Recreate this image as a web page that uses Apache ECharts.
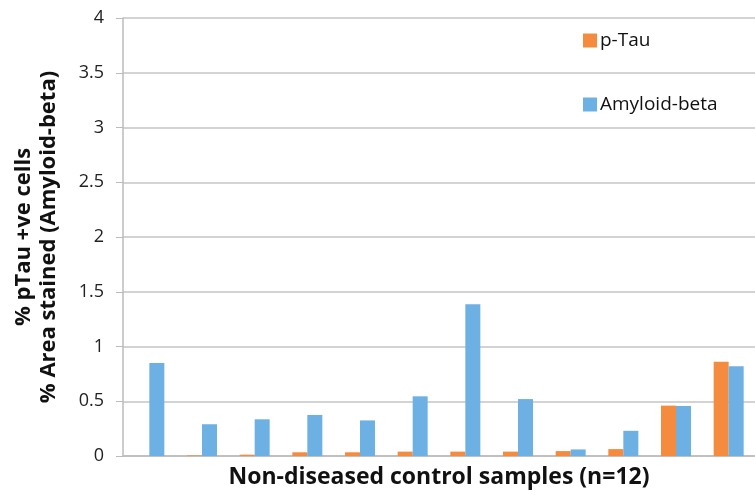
<!DOCTYPE html>
<html>
<head>
<meta charset="utf-8">
<script src="https://cdn.jsdelivr.net/npm/echarts@6/dist/echarts.min.js"></script>
<style>
  html, body { margin: 0; padding: 0; background: #fff; overflow: hidden; }
  #echart { width: 755px; height: 495px; }
</style>
</head>
<body>
<div id="echart"></div>
<script>
const samples = ['1', '2', '3', '4', '5', '6', '7', '8', '9', '10', '11', '12'];
const pTau = [0, 0.005, 0.012, 0.034, 0.034, 0.04, 0.04, 0.04, 0.045, 0.063, 0.46, 0.86];
const amyloid = [0.85, 0.29, 0.335, 0.375, 0.325, 0.545, 1.385, 0.52, 0.06, 0.23, 0.457, 0.82];

const font = '"Open Sans", sans-serif';
const chart = echarts.init(document.getElementById('echart'));

const option = {
    animation: false,
    textStyle: { fontFamily: font },
    grid: { left: 123, right: 0, top: 18, bottom: 39, outerBoundsMode: 'none' },
    legend: {
        orient: 'vertical',
        left: 578,
        top: 26,
        itemGap: 45,
        itemWidth: 14,
        itemHeight: 14,
        icon: 'rect',
        textStyle: { fontSize: 19, color: '#111', fontFamily: font, padding: [0, 0, 0, -2] },
        data: ['p-Tau', 'Amyloid-beta']
    },
    xAxis: {
        type: 'category',
        data: samples,
        name: 'Non-diseased control samples (n=12)',
        nameLocation: 'middle',
        nameGap: 10,
        nameTextStyle: { fontSize: 23, fontWeight: 'bold', color: '#111' },
        axisLabel: { show: false },
        axisTick: { show: false },
        axisLine: { lineStyle: { color: '#bbb', width: 1.5 } }
    },
    yAxis: {
        type: 'value',
        min: 0,
        max: 4,
        interval: 0.5,
        name: '% pTau +ve cells\n% Area stained (Amyloid-beta)',
        nameLocation: 'middle',
        nameRotate: 90,
        nameGap: 62,
        nameTextStyle: { fontSize: 22, fontWeight: 'bold', color: '#111', lineHeight: 25 },
        axisLabel: { fontSize: 18, color: '#222', margin: 19 },
        axisLine: { show: true, lineStyle: { color: '#bbb', width: 1.5 } },
        axisTick: { show: true, length: 7, lineStyle: { color: '#bbb' } },
        splitLine: { lineStyle: { color: '#c4c4c4', width: 1.5 } }
    },
    series: [
        {
            name: 'p-Tau',
            type: 'bar',
            data: pTau,
            barWidth: 15,
            barGap: '0%',
            itemStyle: { color: '#F48B3E' }
        },
        {
            name: 'Amyloid-beta',
            type: 'bar',
            data: amyloid,
            barWidth: 15,
            itemStyle: { color: '#6DB0E4' }
        }
    ]
};

chart.setOption(option);
</script>
</body>
</html>
